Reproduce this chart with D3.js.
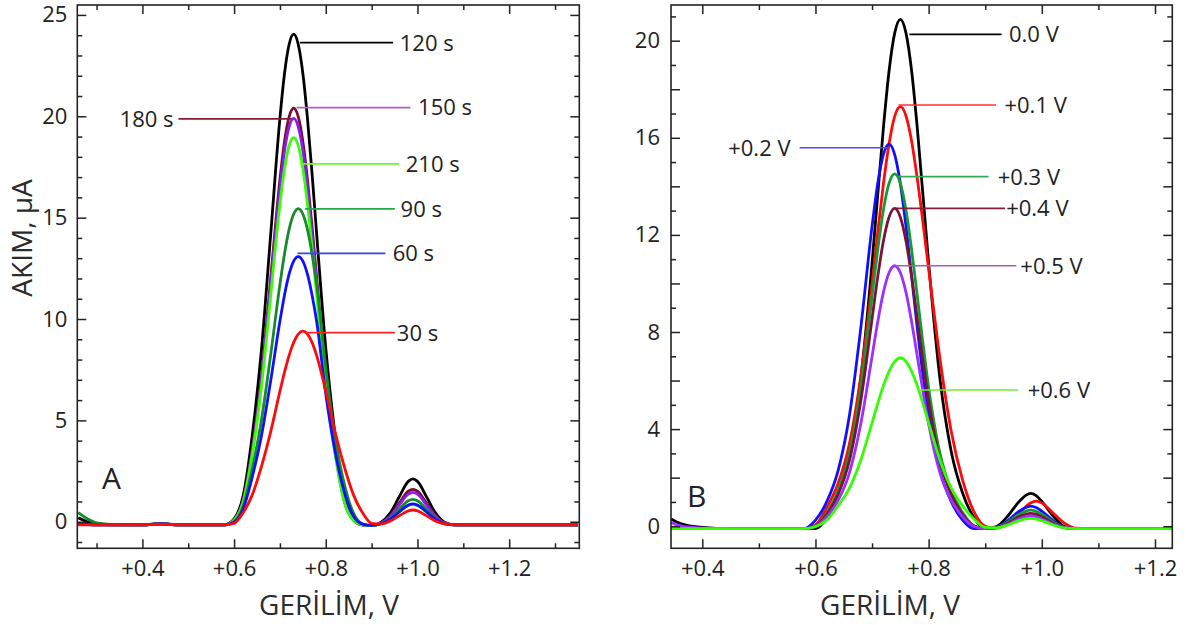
<!DOCTYPE html>
<html><head><meta charset="utf-8">
<script src="https://cdn.jsdelivr.net/npm/d3@7"></script>
<style>
body{margin:0;background:#fff;}
svg{display:block;font-family:"Open Sans",sans-serif;}
</style></head><body><svg id="c" width="1186" height="625"></svg>
<script>
// ---------- Panel A data (potential in V, current in µA) ----------
const gridA = [0.26,0.28,0.30,0.34,0.40,0.44,0.48,0.54,0.58,0.60,0.62,0.64,0.66,0.68,0.70,0.71,0.72,0.73,0.74,0.75,0.76,0.77,0.78,0.80,0.82,0.84,0.86,0.88,0.90,0.92,0.94,0.96,0.98,0.99,1.00,1.02,1.04,1.06,1.08,1.10,1.20,1.30,1.35];
const a120s = [0.20,0.00,-0.10,-0.15,-0.15,-0.08,-0.15,-0.15,-0.15,0.14,1.30,4.33,8.56,14.22,19.91,22.11,23.54,24.05,23.54,22.11,19.91,17.20,14.22,8.56,4.33,1.30,0.14,-0.15,-0.18,-0.04,0.41,1.22,1.99,2.11,1.99,1.22,0.41,-0.04,-0.15,-0.15,-0.15,-0.15,-0.15];
const a180s = [-0.10,-0.13,-0.15,-0.15,-0.15,-0.10,-0.15,-0.15,-0.15,0.10,1.08,3.65,7.25,12.06,16.89,18.76,19.97,20.40,19.97,18.76,16.89,14.58,12.06,7.25,3.65,1.08,0.10,-0.15,-0.18,-0.06,0.29,0.91,1.51,1.60,1.51,0.91,0.29,-0.06,-0.15,-0.15,-0.15,-0.15,-0.15];
const a150s = [-0.10,-0.13,-0.15,-0.15,-0.15,-0.10,-0.15,-0.15,-0.15,0.09,1.05,3.56,7.07,11.76,16.47,18.30,19.48,19.90,19.48,18.30,16.47,14.23,11.76,7.07,3.56,1.05,0.09,-0.15,-0.18,-0.07,0.25,0.82,1.36,1.45,1.36,0.82,0.25,-0.07,-0.15,-0.15,-0.15,-0.15,-0.15];
const a210s = [-0.10,-0.13,-0.15,-0.15,-0.15,-0.10,-0.15,-0.15,-0.15,0.08,1.00,3.38,6.73,11.20,15.68,17.42,18.55,18.95,18.55,17.42,15.68,13.54,11.20,6.73,3.38,1.00,0.08,-0.15,-0.18,-0.10,0.10,0.46,0.80,0.85,0.80,0.46,0.10,-0.10,-0.15,-0.15,-0.15,-0.15,-0.15];
const a90s = [0.45,0.15,-0.05,-0.13,-0.15,-0.10,-0.15,-0.15,-0.15,0.01,0.79,2.66,5.06,8.26,11.71,13.22,14.42,15.18,15.45,15.18,14.42,13.22,11.71,7.60,4.20,1.90,0.45,-0.10,-0.18,-0.09,0.16,0.61,1.03,1.10,1.03,0.61,0.16,-0.09,-0.15,-0.15,-0.15,-0.15,-0.15];
const a60s = [-0.10,-0.13,-0.15,-0.15,-0.15,-0.10,-0.15,-0.15,-0.15,-0.02,0.64,2.23,4.27,6.98,9.90,11.19,12.21,12.86,13.08,12.86,12.21,11.19,9.90,6.30,3.50,1.50,0.30,-0.12,-0.18,-0.10,0.11,0.48,0.82,0.88,0.82,0.48,0.11,-0.10,-0.15,-0.15,-0.15,-0.15,-0.15];
const a30s = [-0.15,-0.15,-0.15,-0.15,-0.15,-0.12,-0.15,-0.15,-0.15,-0.08,0.45,1.35,2.75,4.46,6.44,7.38,8.21,8.85,9.26,9.40,9.26,8.85,8.21,6.44,4.46,2.75,1.35,0.45,-0.08,-0.11,0.03,0.29,0.54,0.58,0.54,0.29,0.03,-0.11,-0.15,-0.15,-0.15,-0.15,-0.15];

// ---------- Panel B data ----------
const gridB = [0.345,0.36,0.40,0.45,0.50,0.55,0.58,0.60,0.62,0.64,0.66,0.68,0.70,0.71,0.72,0.73,0.74,0.75,0.76,0.77,0.78,0.80,0.82,0.84,0.86,0.88,0.90,0.92,0.94,0.96,0.98,0.99,1.00,1.02,1.04,1.06,1.08,1.10,1.15,1.23];
const b00 = [0.30,0.12,-0.05,-0.10,-0.10,-0.10,-0.10,-0.10,0.36,1.37,3.07,6.07,10.83,13.64,16.39,18.74,20.31,20.88,20.31,18.74,16.39,10.83,6.07,3.07,1.37,0.36,-0.10,-0.01,0.42,1.02,1.35,1.26,1.02,0.42,-0.01,-0.10,-0.10,-0.10,-0.10,-0.10];
const b01 = [-0.10,-0.10,-0.10,-0.10,-0.10,-0.10,-0.10,0.05,0.77,1.76,3.39,6.17,10.00,12.10,14.08,15.74,16.88,17.28,16.90,15.85,14.30,10.60,6.90,3.90,1.90,0.60,0.00,-0.08,0.13,0.54,0.96,1.03,0.96,0.54,0.13,-0.08,-0.10,-0.10,-0.10,-0.10];
const b02 = [-0.10,-0.10,-0.10,-0.10,-0.10,-0.10,-0.10,0.25,1.01,2.29,4.56,8.15,12.35,14.12,15.31,15.74,15.31,14.12,12.35,10.28,8.15,4.56,2.29,1.01,0.25,-0.10,-0.10,-0.04,0.23,0.62,0.83,0.77,0.62,0.23,-0.04,-0.10,-0.10,-0.10,-0.10,-0.10];
const b03 = [-0.10,-0.10,-0.10,-0.10,-0.10,-0.10,-0.10,0.02,0.56,1.46,3.00,5.71,9.47,11.38,13.02,14.12,14.51,14.12,13.02,11.38,9.47,5.71,3.00,1.46,0.56,0.02,-0.10,-0.05,0.17,0.49,0.66,0.61,0.49,0.17,-0.05,-0.10,-0.10,-0.10,-0.10,-0.10];
const b04 = [-0.10,-0.10,-0.10,-0.10,-0.10,-0.10,-0.10,0.01,0.49,1.31,2.70,5.15,8.54,10.27,11.74,12.73,13.09,12.73,11.74,10.27,8.54,5.15,2.70,1.31,0.49,0.01,-0.10,-0.06,0.13,0.39,0.53,0.49,0.39,0.13,-0.06,-0.10,-0.10,-0.10,-0.10,-0.10];
const b05 = [0.15,0.02,-0.08,-0.10,-0.10,-0.10,-0.10,-0.01,0.39,1.06,2.20,4.21,6.99,8.41,9.63,10.44,10.73,10.44,9.63,8.41,6.99,4.21,2.20,1.06,0.39,-0.01,-0.10,-0.07,0.09,0.30,0.42,0.39,0.30,0.09,-0.07,-0.10,-0.10,-0.10,-0.10,-0.10];
const b06 = [-0.10,-0.10,-0.10,-0.10,-0.10,-0.10,-0.10,-0.02,0.25,0.84,1.57,2.72,4.26,5.05,5.78,6.38,6.78,6.94,6.78,6.38,5.78,4.26,2.72,1.57,0.84,0.30,-0.05,-0.07,0.05,0.23,0.32,0.29,0.23,0.05,-0.07,-0.10,-0.10,-0.10,-0.10,-0.10];

// ---------- ticks ----------
const xMajorTicks = [0.4,0.6,0.8,1.0,1.2];
const xMinorTicksA = [0.3,0.5,0.7,0.9,1.1,1.3];
const xMinorTicksB = [0.5,0.7,0.9,1.1];
const yMajorTicksA = [0,5,10,15,20,25];
const yMinorTicksA = [-1,1,2,3,4,6,7,8,9,11,12,13,14,16,17,18,19,21,22,23,24];
const yMajorTicksB = [0,2,4,6,8,10,12,14,16,18,20];
const yLabelTicksB = [0,4,8,12,16,20];
const yMinorTicksB = [1,3,5,7,9,11,13,15,17,19,21];

// ---------- labels (text, leader height, leader start/end, text x) ----------
const labelTextA = ["120 s","150 s","180 s","210 s","90 s","60 s","30 s"];
const labelYA    = [23.63, 20.43, 19.87, 17.65, 15.43, 13.24, 9.33];
const leaderX0A  = [0.7435, 0.7363, 0.4788, 0.7435, 0.755, 0.7384, 0.755];
const leaderX1A  = [0.9468, 0.9848, 0.7254, 0.9599, 0.9506, 0.930, 0.9506];
const textXA     = [0.9614, 1.0013, 0.4681, 0.9745, 0.9632, 0.946, 0.955];
const leaderColA = ["#000000","#b45cc4","#8b1a2a","#66ff22","#22aa44","#3344e8","#ff2222"];

const labelTextB = ["0.0 V","+0.1 V","+0.2 V","+0.3 V","+0.4 V","+0.5 V","+0.6 V"];
const labelYB    = [20.26, 17.35, 15.59, 14.40, 13.09, 10.73, 5.61];
const leaderX0B  = [0.766, 0.747, 0.572, 0.747, 0.741, 0.741, 0.780];
const leaderX1B  = [0.929, 0.919, 0.727, 0.906, 0.935, 0.955, 0.958];
const textXB     = [0.942, 0.934, 0.556, 0.922, 0.937, 0.962, 0.975];
const leaderColB = ["#000000","#ff3333","#4a4aff","#33aa55","#8b1a3a","#a060c0","#77ee33"];

const svg = d3.select("#c");

function drawPanel(p) {
  const x = d3.scaleLinear().domain(p.xDomain).range(p.xRange);
  const y = d3.scaleLinear().domain(p.yDomain).range(p.yRange);
  const g = svg.append("g");
  const clipId = "clip" + p.name;
  svg.append("clipPath").attr("id", clipId).append("rect")
    .attr("x", p.xRange[0]).attr("y", p.yRange[1])
    .attr("width", p.xRange[1]-p.xRange[0]).attr("height", p.yRange[0]-p.yRange[1]);

  const line = d3.line()
    .x((d,i) => x(p.grid[i]))
    .y(d => y(d))
    .curve(d3.curveMonotoneX);

  const cg = g.append("g").attr("clip-path", `url(#${clipId})`);
  p.series.forEach(s => {
    cg.append("path").attr("d", line(s.values))
      .attr("fill","none").attr("stroke", s.color)
      .attr("stroke-width", 2.8).attr("stroke-linejoin","round");
  });

  // leaders + labels
  p.labels.text.forEach((t,i) => {
    const yy = y(p.labels.y[i]);
    g.append("line")
      .attr("x1", x(p.labels.x0[i])).attr("x2", x(p.labels.x1[i]))
      .attr("y1", yy).attr("y2", yy)
      .attr("stroke", p.labels.color[i]).attr("stroke-width", 1.7);
    const tx = x(p.labels.tx[i]);
    g.append("text").attr("x", tx).attr("y", yy).attr("dy","0.36em")
      .attr("text-anchor", tx < x(p.labels.x0[i]) ? "end" : "start")
      .attr("font-size", 22).attr("fill","#222").text(t);
  });

  // axes
  const ax = g.append("g").attr("class","axes");
  const styleAxis = sel => {
    sel.select(".domain").remove();
    sel.selectAll(".tick line").attr("stroke","#222").attr("stroke-width",1.5);
    sel.selectAll("text").attr("font-size",22).attr("fill","#222").attr("font-family",'"Open Sans",sans-serif');
  };
  const fmtX = d => "+" + d.toFixed(1);
  ax.append("g").attr("transform",`translate(0,${p.yRange[0]})`)
    .call(d3.axisBottom(x).tickValues(xMajorTicks).tickFormat(fmtX).tickSizeInner(-9).tickSizeOuter(0).tickPadding(12)).call(styleAxis);
  ax.append("g").attr("transform",`translate(0,${p.yRange[0]})`)
    .call(d3.axisBottom(x).tickValues(p.xMinor).tickFormat("").tickSizeInner(-5).tickSizeOuter(0)).call(styleAxis);
  ax.append("g").attr("transform",`translate(0,${p.yRange[1]})`)
    .call(d3.axisTop(x).tickValues(xMajorTicks).tickFormat("").tickSizeInner(-9).tickSizeOuter(0)).call(styleAxis);
  ax.append("g").attr("transform",`translate(0,${p.yRange[1]})`)
    .call(d3.axisTop(x).tickValues(p.xMinor).tickFormat("").tickSizeInner(-5).tickSizeOuter(0)).call(styleAxis);

  ax.append("g").attr("transform",`translate(${p.xRange[0]},0)`)
    .call(d3.axisLeft(y).tickValues(p.yMajor).tickFormat(d => p.yLabels.includes(d) ? d : "").tickSizeInner(-9).tickSizeOuter(0).tickPadding(p.yPad)).call(styleAxis);
  ax.append("g").attr("transform",`translate(${p.xRange[0]},0)`)
    .call(d3.axisLeft(y).tickValues(p.yMinor).tickFormat("").tickSizeInner(-5).tickSizeOuter(0)).call(styleAxis);
  ax.append("g").attr("transform",`translate(${p.xRange[1]},0)`)
    .call(d3.axisRight(y).tickValues(p.yMajor).tickFormat("").tickSizeInner(-9).tickSizeOuter(0)).call(styleAxis);
  ax.append("g").attr("transform",`translate(${p.xRange[1]},0)`)
    .call(d3.axisRight(y).tickValues(p.yMinor).tickFormat("").tickSizeInner(-5).tickSizeOuter(0)).call(styleAxis);

  // frame
  g.append("rect").attr("x", p.xRange[0]).attr("y", p.yRange[1])
    .attr("width", p.xRange[1]-p.xRange[0]).attr("height", p.yRange[0]-p.yRange[1])
    .attr("fill","none").attr("stroke","#222").attr("stroke-width",1.6);

  // panel letter
  g.append("text").attr("x", p.letterPos[0]).attr("y", p.letterPos[1])
    .attr("font-size", 30).attr("fill","#222").text(p.name);

  // x title
  g.append("text").attr("x", p.xTitleX).attr("y", 615).attr("text-anchor","middle")
    .attr("font-size", 28).attr("fill","#2b2b2b").text("GERİLİM, V");
}

drawPanel({
  name: "A",
  xDomain: [0.258, 1.353], xRange: [77.3, 579.3],
  yDomain: [-1.31, 25.49], yRange: [548.3, 5],
  grid: gridA,
  series: [
    {values: a120s, color: "#000000"},
    {values: a180s, color: "#7e0a2e"},
    {values: a150s, color: "#8a1cf0"},
    {values: a210s, color: "#33ff00"},
    {values: a90s,  color: "#178a2c"},
    {values: a60s,  color: "#1010ff"},
    {values: a30s,  color: "#ff0a0a"}
  ],
  labels: {text: labelTextA, y: labelYA, x0: leaderX0A, x1: leaderX1A, tx: textXA, color: leaderColA},
  xMinor: xMinorTicksA,
  yMajor: yMajorTicksA, yLabels: yMajorTicksA, yMinor: yMinorTicksA, yPad: 10,
  letterPos: [102, 489],
  xTitleX: 329
});

drawPanel({
  name: "B",
  xDomain: [0.3447, 1.2306], xRange: [671, 1172.3],
  yDomain: [-0.91, 21.47], yRange: [548.3, 5],
  grid: gridB,
  series: [
    {values: b00, color: "#000000"},
    {values: b01, color: "#ff0a0a"},
    {values: b02, color: "#1010ff"},
    {values: b03, color: "#159a35"},
    {values: b04, color: "#7a1436"},
    {values: b05, color: "#9b30ff"},
    {values: b06, color: "#33ff00"}
  ],
  labels: {text: labelTextB, y: labelYB, x0: leaderX0B, x1: leaderX1B, tx: textXB, color: leaderColB},
  xMinor: xMinorTicksB,
  yMajor: yMajorTicksB, yLabels: yLabelTicksB, yMinor: yMinorTicksB, yPad: 11,
  letterPos: [687, 507],
  xTitleX: 890
});

// y title (left panel)
svg.append("text").attr("transform","translate(32,238) rotate(-90)")
  .attr("text-anchor","middle").attr("font-size",28).attr("fill","#2b2b2b").text("AKIM, µA");
</script></body></html>
